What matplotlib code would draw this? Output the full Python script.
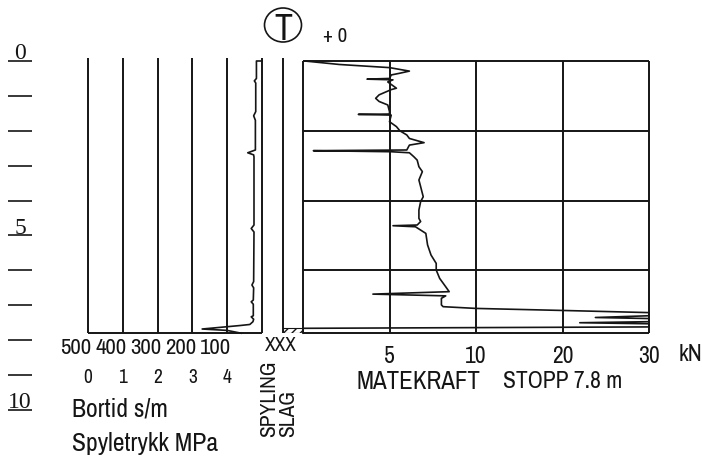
import numpy as np
import matplotlib
matplotlib.use('Agg')
import matplotlib.pyplot as plt
from matplotlib import font_manager
from matplotlib.patches import Ellipse
from matplotlib.transforms import offset_copy

# Sounding data: depth in m, bortid in s/m, matekraft in kN
stop_depth = 7.8
depth_ticks = list(range(0, 11))
depth_labels = [0, 5, 10]

bortid_grid = [500, 400, 300, 200, 100, 0]
bortid_ticks = [500, 400, 300, 200, 100]
spyle_ticks = [0, 1, 2, 3, 4]

bortid_depth = [0.0, 0.0, 0.5, 0.57, 0.63, 1.45, 1.57, 1.7, 2.55, 2.63, 2.69, 2.75,
                4.7, 4.8, 4.9, 6.32, 6.42, 6.5, 6.85, 6.9, 6.97, 7.3, 7.33, 7.4,
                7.47, 7.55, 7.58, 7.68, 7.72, 7.8]
bortid = [0, 16, 16, 22, 18, 18, 24, 19, 19, 41, 24, 23,
          23, 31, 23, 24, 29, 24, 25, 31, 25, 25, 31, 24,
          26, 35, 63, 172, 100, 60]

slag_depth = [7.66, 7.8]

kn_grid = [0, 5, 10, 20, 30]
kn_ticks = [5, 10, 20, 30]
depth_grid = [0, 2, 4, 6]

mk_depth = [0.0, 0.1, 0.19, 0.29, 0.35, 0.4, 0.5, 0.52, 0.54, 0.6, 0.78, 0.82,
            0.97, 1.07, 1.16, 1.26, 1.45, 1.52, 1.53, 1.55, 1.74, 1.88, 2.0, 2.12,
            2.22, 2.34, 2.41, 2.55, 2.57, 2.6, 2.63, 2.74, 2.84, 3.03, 3.17, 3.41,
            3.6, 3.89, 4.03, 4.27, 4.51, 4.6, 4.7, 4.72, 4.75, 4.94, 5.27, 5.56,
            5.8, 5.99, 6.23, 6.47, 6.61, 6.68, 6.73, 6.8, 6.99, 7.04, 7.09, 7.15,
            7.21, 7.3, 7.35, 7.38, 7.47, 7.5, 7.53, 7.62, 7.66, 7.8]
matekraft = [0.1, 2.1, 5.0, 6.15, 5.6, 5.1, 5.0, 3.7, 5.2, 4.9, 5.4, 5.1,
             4.4, 4.2, 4.4, 4.9, 5.0, 5.0, 3.2, 5.1, 5.0, 5.4, 5.6, 6.0,
             6.15, 7.0, 6.15, 6.0, 0.6, 5.1, 6.15, 6.4, 6.6, 6.7, 6.9, 6.7,
             6.8, 6.95, 6.8, 6.7, 6.7, 6.8, 6.6, 5.2, 6.5, 7.1, 7.2, 7.4,
             7.7, 7.7, 7.9, 8.25, 8.45, 4.04, 8.25, 8.0, 8.0, 8.1, 10.0, 20.3,
             30, 30, 23.8, 30, 30, 22.0, 30, 30, 0, 0]

W, H = 702, 461
INK = '#151515'

# pick a narrow sans for the plotter lettering, fall back to a smaller DejaVu
installed = {f.name for f in font_manager.fontManager.ttflist}
NARROW = 'DejaVu Sans'
FS = 0.8
for name in ['Liberation Sans Narrow', 'Archivo Narrow', 'Roboto Condensed']:
    if name in installed:
        NARROW = name
        FS = 1.0
        break
SERIF = ['Liberation Serif', 'DejaVu Serif']
top = -0.08


def px_rect(x0, y0, x1, y1):
    return [x0 / W, (H - y1) / H, (x1 - x0) / W, (y1 - y0) / H]


fig = plt.figure(figsize=(W / 100, H / 100), dpi=100)
fig.patch.set_facecolor('white')

# depth scale on the far left
ax_dp = fig.add_axes(px_rect(8, 61, 32, 410))
ax_dp.set_xlim(0, 1)
ax_dp.set_ylim(10, 0)
ax_dp.axis('off')
ax_dp.hlines(depth_ticks, 0, 1, color=INK, lw=1.2, clip_on=False)
for d in depth_labels:
    ax_dp.text(0.5, d, str(d), ha='center', va='baseline', fontsize=17,
               family=SERIF, color=INK,
               transform=offset_copy(ax_dp.transData, fig=fig, y=2, units='dots'))

# bortid / spyletrykk panel
ax_bt = fig.add_axes(px_rect(88, 58.2, 262, 333.2))
ax_bt.set_xlim(500, 0)
ax_bt.set_ylim(stop_depth, top)
ax_bt.axis('off')
ax_bt.vlines(bortid_grid, top, stop_depth, color=INK, lw=1.4, clip_on=False)
ax_bt.hlines(stop_depth, 500, 0, color=INK, lw=1.4, clip_on=False)
ax_bt.plot(bortid, bortid_depth, color=INK, lw=1.2, clip_on=False)

lab_tr = offset_copy(ax_bt.get_xaxis_transform(), fig=fig, x=-12, units='dots')
for v in bortid_ticks:
    ax_bt.text(v, -0.052, str(v), ha='center', va='center', fontsize=16.5 * FS,
               family=NARROW, color=INK, transform=lab_tr)
for p in spyle_ticks:
    ax_bt.text(500 - 100 * p, -0.161, str(p), ha='center', va='center',
               fontsize=14 * FS, family=NARROW, color=INK,
               transform=ax_bt.get_xaxis_transform())

fig.text(72 / W, (H - 416) / H, 'Bortid s/m', ha='left', va='baseline',
         fontsize=18.5 * FS, family=NARROW, color=INK)
fig.text(72 / W, (H - 451) / H, 'Spyletrykk MPa', ha='left', va='baseline',
         fontsize=18.5 * FS, family=NARROW, color=INK)

# spyling / slag columns
ax_sl = fig.add_axes(px_rect(262, 58.2, 303, 333.2))
ax_sl.set_xlim(0, 2)
ax_sl.set_ylim(stop_depth, top)
ax_sl.axis('off')
ax_sl.vlines([1], top, stop_depth, color=INK, lw=1.4, clip_on=False)
ax_sl.fill_betweenx(slag_depth, 1, 2, facecolor='none', edgecolor=INK,
                    hatch='////', lw=0.8)
ax_sl.text(0.46, -0.045, 'XXX', ha='center', va='center', fontsize=14 * FS,
           family=NARROW, color=INK, transform=ax_sl.transAxes)
fig.text(269 / W, (H - 437) / H, 'SPYLING', rotation=90, ha='center',
         va='bottom', fontsize=15.5 * FS, family=NARROW, color=INK)
fig.text(288 / W, (H - 437) / H, 'SLAG', rotation=90, ha='center',
         va='bottom', fontsize=15.5 * FS, family=NARROW, color=INK)

# matekraft panel with split scale 0-5-10-20-30 kN
kn_pos = [0, 1, 2, 3, 4]


def kn_fwd(x):
    return np.interp(x, kn_grid, kn_pos)


def kn_inv(x):
    return np.interp(x, kn_pos, kn_grid)


ax_mk = fig.add_axes(px_rect(303, 58.2, 649, 333.2))
ax_mk.set_xscale('function', functions=(kn_fwd, kn_inv))
ax_mk.set_xlim(0, 30)
ax_mk.set_ylim(stop_depth, top)
for s in ax_mk.spines.values():
    s.set_visible(False)
ax_mk.vlines(kn_grid, 0, stop_depth, color=INK, lw=1.4, clip_on=False)
ax_mk.hlines(depth_grid + [stop_depth], 0, 30, color=INK, lw=1.4, clip_on=False)
ax_mk.plot(matekraft, mk_depth, color=INK, lw=1.2, clip_on=False)
ax_mk.set_xticks(kn_ticks)
ax_mk.set_xticklabels([str(t) for t in kn_ticks], family=NARROW,
                      fontsize=17 * FS, color=INK)
ax_mk.xaxis.set_minor_locator(plt.NullLocator())
ax_mk.tick_params(axis='x', length=0, pad=9)
ax_mk.set_yticks([])
ax_mk.text(690 / W, (H - 354) / H, 'kN', ha='center', va='center',
           fontsize=17 * FS, family=NARROW, color=INK, transform=fig.transFigure)
fig.text(357 / W, (H - 381) / H, 'MATEKRAFT', ha='left', va='center',
         fontsize=18 * FS, family=NARROW, color=INK)
fig.text(503 / W, (H - 381) / H, 'STOPP %.1f m' % stop_depth, ha='left',
         va='center', fontsize=17 * FS, family=NARROW, color=INK)

# header symbol and level
fig.add_artist(Ellipse((283 / W, (H - 25) / H), 37 / W, 34 / H,
                       transform=fig.transFigure, facecolor='none',
                       edgecolor=INK, lw=1.2))
fig.text(283 / W, (H - 26) / H, 'T', ha='center', va='center_baseline',
         fontsize=26 * FS, family=NARROW, color=INK)
fig.text(323 / W, (H - 37) / H, '+ 0', ha='left', va='center',
         fontsize=15 * FS, family=NARROW, color=INK)

fig.savefig('out.png', dpi=100)
